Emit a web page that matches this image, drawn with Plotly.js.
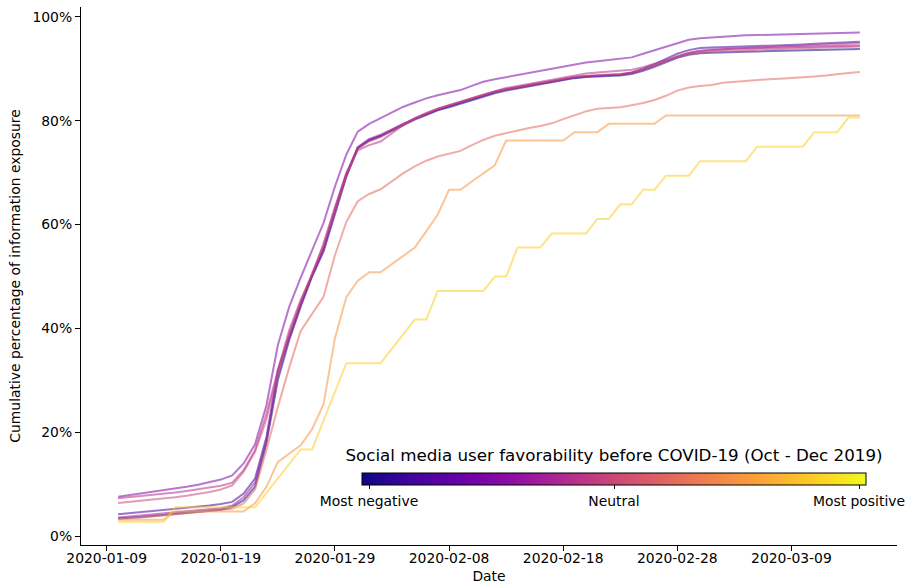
<!DOCTYPE html>
<html>
<head>
<meta charset="utf-8">
<script src="https://cdn.plot.ly/plotly-3.0.1.min.js"></script>
<style>html,body{margin:0;padding:0;background:#fff;}#chart{width:907px;height:588px;}</style>
</head>
<body>
<div id="chart"></div>
<script>
// Daily dates, 2020-01-10 .. 2020-03-15
const dates = [
 '2020-01-10','2020-01-11','2020-01-12','2020-01-13','2020-01-14','2020-01-15','2020-01-16','2020-01-17','2020-01-18','2020-01-19',
 '2020-01-20','2020-01-21','2020-01-22','2020-01-23','2020-01-24','2020-01-25','2020-01-26','2020-01-27','2020-01-28','2020-01-29',
 '2020-01-30','2020-01-31','2020-02-01','2020-02-02','2020-02-03','2020-02-04','2020-02-05','2020-02-06','2020-02-07','2020-02-08',
 '2020-02-09','2020-02-10','2020-02-11','2020-02-12','2020-02-13','2020-02-14','2020-02-15','2020-02-16','2020-02-17','2020-02-18',
 '2020-02-19','2020-02-20','2020-02-21','2020-02-22','2020-02-23','2020-02-24','2020-02-25','2020-02-26','2020-02-27','2020-02-28',
 '2020-02-29','2020-03-01','2020-03-02','2020-03-03','2020-03-04','2020-03-05','2020-03-06','2020-03-07','2020-03-08','2020-03-09',
 '2020-03-10','2020-03-11','2020-03-12','2020-03-13','2020-03-14','2020-03-15'];

// Favorability level of each series (0 = most negative, 1 = most positive)
const favorability = [0.0, 0.1, 0.25, 0.35, 0.42, 0.5, 0.62, 0.75, 0.9];

// Cumulative exposure (%) per series
const favE = [3.4,3.5,3.7,3.9,4.1,4.3,4.5,4.7,4.9,5.1,5.6,6.9,9.5,17.9,30.1,37.8,44.2,50.0,54.8,62.2,69.2,74.7,76.2,77.0,78.1,79.2,80.2,81.1,82.0,82.6,83.3,84.0,84.7,85.3,85.8,86.2,86.6,87.1,87.5,87.9,88.2,88.4,88.5,88.6,88.7,89.0,89.6,90.4,91.3,92.1,92.7,93.0,93.1,93.2,93.25,93.3,93.35,93.4,93.45,93.5,93.55,93.6,93.65,93.7,93.75,93.8];
const favD = [4.2,4.4,4.6,4.8,5.0,5.2,5.4,5.6,5.9,6.2,6.6,8.2,11.1,19.1,32.0,38.6,44.8,50.3,55.5,63.0,69.8,74.8,76.3,77.1,78.3,79.4,80.4,81.3,82.1,82.8,83.5,84.2,84.9,85.5,86.0,86.4,86.8,87.2,87.6,88.0,88.3,88.5,88.6,88.7,88.9,89.3,90.0,90.9,91.9,92.9,93.6,94.0,94.1,94.2,94.3,94.35,94.4,94.45,94.5,94.6,94.7,94.8,94.9,95.0,95.1,95.2];
const favA = [7.6,7.9,8.2,8.5,8.8,9.2,9.5,9.9,10.4,10.9,11.7,14.0,17.7,25.2,36.8,44.2,49.8,55.0,60.3,67.3,73.5,77.9,79.4,80.5,81.6,82.7,83.5,84.3,84.9,85.4,85.9,86.7,87.5,88.0,88.4,88.8,89.2,89.6,90.1,90.5,90.9,91.2,91.45,91.7,91.9,92.2,92.9,93.6,94.3,95.0,95.6,95.9,96.05,96.2,96.35,96.45,96.5,96.55,96.6,96.65,96.7,96.75,96.8,96.85,96.9,97.0];
const favF = [3.6,3.8,4.0,4.2,4.4,4.6,4.8,5.0,5.2,5.4,5.9,7.5,10.3,18.5,31.0,38.2,44.5,50.2,55.2,62.6,69.5,74.9,76.5,77.3,78.4,79.4,80.4,81.3,82.2,82.9,83.6,84.3,85.0,85.6,86.1,86.5,86.9,87.3,87.7,88.1,88.4,88.6,88.7,88.8,88.9,89.2,89.8,90.6,91.5,92.4,93.1,93.5,93.7,93.8,93.9,93.95,94.0,94.05,94.1,94.15,94.2,94.3,94.35,94.4,94.45,94.5];
const favB = [7.3,7.5,7.7,7.9,8.1,8.4,8.7,9.0,9.3,9.7,10.3,12.7,16.6,23.6,32.0,39.7,45.5,50.3,56.4,63.4,69.9,74.3,75.3,76.0,77.6,79.2,80.5,81.5,82.3,83.0,83.7,84.4,85.1,85.7,86.3,86.7,87.1,87.6,88.0,88.4,88.8,89.1,89.3,89.5,89.6,89.8,90.3,91.0,91.7,92.4,93.0,93.4,93.6,93.75,93.9,94.0,94.1,94.2,94.3,94.4,94.5,94.6,94.7,94.8,94.85,94.9];
const favC = [6.4,6.6,6.8,7.0,7.2,7.5,7.8,8.1,8.5,9.0,9.8,12.4,16.2,22.5,31.5,39.0,45.2,50.6,56.0,62.8,69.4,74.6,76.0,76.9,78.1,79.3,80.4,81.4,82.3,83.0,83.7,84.4,85.0,85.6,86.1,86.5,86.9,87.3,87.7,88.1,88.4,88.6,88.8,88.9,89.0,89.3,89.9,90.7,91.5,92.3,92.9,93.2,93.35,93.45,93.55,93.6,93.7,93.75,93.8,93.9,93.95,94.0,94.1,94.15,94.2,94.3];
const favG = [3.3,3.4,3.6,3.8,4.0,4.2,4.4,4.6,4.8,5.0,5.3,6.3,9.0,16.6,24.9,32.5,39.5,42.8,46.1,54.1,60.5,64.5,65.9,66.8,68.4,69.9,71.2,72.3,73.1,73.6,74.2,75.3,76.3,77.1,77.6,78.2,78.6,79.0,79.5,80.3,81.1,81.8,82.3,82.5,82.6,83.0,83.4,84.0,84.8,85.8,86.4,86.7,86.9,87.3,87.5,87.7,87.85,88.0,88.1,88.2,88.35,88.5,88.7,89.0,89.2,89.4];
const favH = [3.17,3.17,3.17,3.17,3.17,4.76,4.76,4.76,4.76,4.76,4.76,4.76,6.35,9.5,14.3,15.9,17.5,20.6,25.4,38.1,46.0,49.2,50.8,50.8,52.4,54.0,55.6,58.7,61.9,66.7,66.7,68.3,69.8,71.4,76.2,76.2,76.2,76.2,76.2,76.2,77.8,77.8,77.8,79.4,79.4,79.4,79.4,79.4,81.0,81.0,81.0,81.0,81.0,81.0,81.0,81.0,81.0,81.0,81.0,81.0,81.0,81.0,81.0,81.0,81.0,81.0];
const favI = [2.78,2.78,2.78,2.78,2.78,5.56,5.56,5.56,5.56,5.56,5.56,5.56,5.56,8.33,11.1,13.9,16.7,16.7,22.2,27.8,33.3,33.3,33.3,33.3,36.1,38.9,41.7,41.7,47.2,47.2,47.2,47.2,47.2,50.0,50.0,55.6,55.6,55.6,58.3,58.3,58.3,58.3,61.1,61.1,63.9,63.9,66.7,66.7,69.4,69.4,69.4,72.2,72.2,72.2,72.2,72.2,75.0,75.0,75.0,75.0,75.0,77.8,77.8,77.8,80.6,80.6];

const seriesList = [favE, favD, favA, favF, favB, favC, favG, favH, favI];

const xTicks = ['2020-01-09','2020-01-19','2020-01-29','2020-02-08','2020-02-18','2020-02-28','2020-03-09'];
const yTicks = [0, 20, 40, 60, 80, 100];
const yTickText = ['0%', '20%', '40%', '60%', '80%', '100%'];
const cbTickVals = [0.0139, 0.5, 0.9861];
const cbTickText = ['Most negative', 'Neutral', 'Most positive'];

// plasma colormap stops
const plasmaStops = [
 [0.0,[13,8,135]],[0.1,[65,4,157]],[0.2,[106,0,168]],[0.3,[143,13,164]],[0.4,[177,42,144]],
 [0.5,[204,71,120]],[0.6,[225,100,98]],[0.7,[242,132,75]],[0.8,[252,166,54]],[0.9,[252,206,37]],[1.0,[240,249,33]]];
function plasma(v, a) {
  for (let i = 0; i < plasmaStops.length - 1; i++) {
    const [v0, c0] = plasmaStops[i], [v1, c1] = plasmaStops[i+1];
    if (v >= v0 && v <= v1) {
      const t = (v - v0) / (v1 - v0);
      const c = c0.map((x, k) => Math.round(x + (c1[k] - x) * t));
      return `rgba(${c[0]},${c[1]},${c[2]},${a})`;
    }
  }
  return `rgba(240,249,33,${a})`;
}
const plasmaScale = plasmaStops.map(([v, c]) => [v, `rgb(${c[0]},${c[1]},${c[2]})`]);

const font = 'DejaVu Sans, sans-serif';
const traces = seriesList.map((s, i) => ({
  type: 'scatter', mode: 'lines', x: dates, y: s,
  line: {color: plasma(favorability[i], 0.55), width: 2},
  showlegend: false, hoverinfo: 'skip'
}));

traces.push({
  type: 'scatter', mode: 'markers', x: [dates[0]], y: [favA[0]],
  marker: {
    size: 1, opacity: 0, color: [0], cmin: 0, cmax: 1, colorscale: plasmaScale, showscale: true,
    colorbar: {
      orientation: 'h', thicknessmode: 'pixels', thickness: 12, lenmode: 'pixels', len: 504,
      x: 0.6532, xanchor: 'center', y: 0.171, yanchor: 'top', xpad: 0, ypad: 0,
      outlinewidth: 1, outlinecolor: '#000',
      tickmode: 'array', tickvals: cbTickVals, ticktext: cbTickText,
      ticks: 'outside', ticklen: 4, tickwidth: 1, tickcolor: '#000',
      tickfont: {family: font, size: 13.9, color: '#000'},
      title: {text: 'Social media user favorability before COVID-19 (Oct - Dec 2019)', side: 'top',
              font: {family: font, size: 16.7, color: '#000'}}
    }
  },
  showlegend: false, hoverinfo: 'skip'
});

const layout = {
  width: 907, height: 588,
  margin: {l: 81, r: 10, t: 7, b: 43},
  paper_bgcolor: '#fff', plot_bgcolor: '#fff',
  font: {family: font, size: 13.9, color: '#000'},
  xaxis: {
    type: 'date', range: ['2020-01-06 18:00', '2020-03-18 06:00'],
    tickmode: 'array', tickvals: xTicks, ticktext: xTicks,
    ticks: 'outside', ticklen: 5, tickwidth: 1.1, tickcolor: '#000',
    ticklabelstandoff: -5,
    showline: true, linecolor: '#000', linewidth: 1.1, showgrid: false, zeroline: false,
    tickfont: {family: font, size: 13.9, color: '#000'},
    title: {text: 'Date', font: {family: font, size: 13.9, color: '#000'}, standoff: 6},
    automargin: false
  },
  yaxis: {
    range: [-1.7, 101.9],
    tickmode: 'array', tickvals: yTicks, ticktext: yTickText,
    ticks: 'outside', ticklen: 5, tickwidth: 1.1, tickcolor: '#000',
    showline: true, linecolor: '#000', linewidth: 1.1, showgrid: false, zeroline: false,
    tickfont: {family: font, size: 13.9, color: '#000'},
    title: {text: 'Cumulative percentage of information exposure', font: {family: font, size: 13.9, color: '#000'}, standoff: 8},
    automargin: false
  }
};

Plotly.newPlot('chart', traces, layout, {displayModeBar: false, staticPlot: true});
</script>
</body>
</html>
